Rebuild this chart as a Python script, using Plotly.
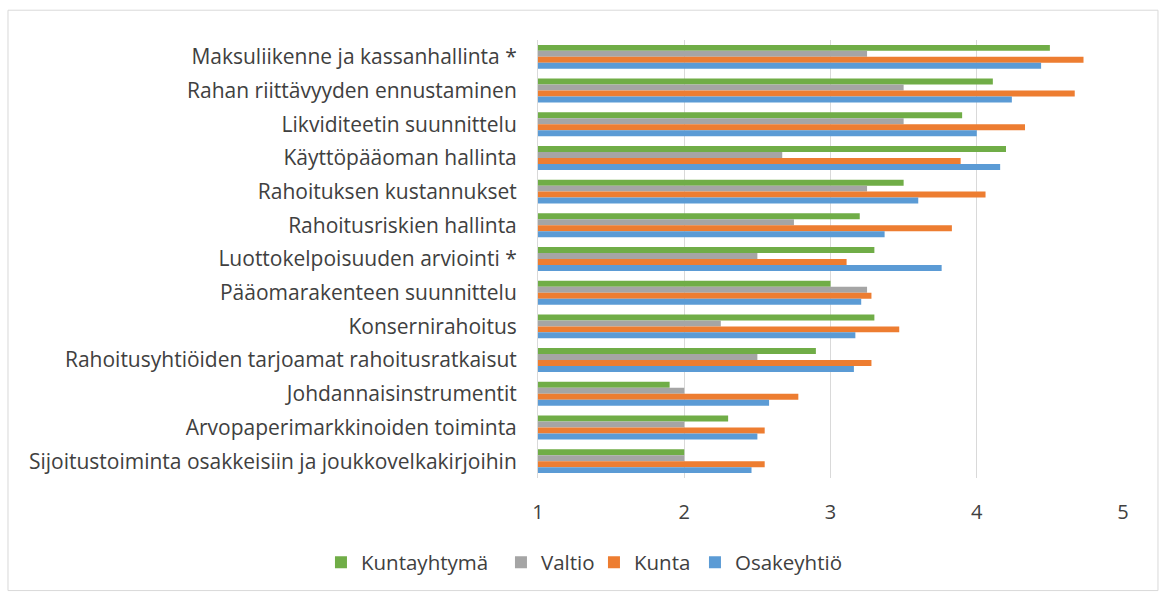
import plotly.graph_objects as go

categories = [
    "Maksuliikenne ja kassanhallinta *",
    "Rahan riittävyyden ennustaminen",
    "Likviditeetin suunnittelu",
    "Käyttöpääoman hallinta",
    "Rahoituksen kustannukset",
    "Rahoitusriskien hallinta",
    "Luottokelpoisuuden arviointi *",
    "Pääomarakenteen suunnittelu",
    "Konsernirahoitus",
    "Rahoitusyhtiöiden tarjoamat rahoitusratkaisut",
    "Johdannaisinstrumentit",
    "Arvopaperimarkkinoiden toiminta",
    "Sijoitustoiminta osakkeisiin ja joukkovelkakirjoihin",
]

kuntayhtyma = [4.50, 4.11, 3.90, 4.20, 3.50, 3.20, 3.30, 3.00, 3.30, 2.90, 1.90, 2.30, 2.00]
valtio      = [3.25, 3.50, 3.50, 2.67, 3.25, 2.75, 2.50, 3.25, 2.25, 2.50, 2.00, 2.00, 2.00]
kunta       = [4.73, 4.67, 4.33, 3.89, 4.06, 3.83, 3.11, 3.28, 3.47, 3.28, 2.78, 2.55, 2.55]
osakeyhtio  = [4.44, 4.24, 4.00, 4.16, 3.60, 3.37, 3.76, 3.21, 3.17, 3.16, 2.58, 2.50, 2.46]

series_names = ["Kuntayhtymä", "Valtio", "Kunta", "Osakeyhtiö"]
series_values = [kuntayhtyma, valtio, kunta, osakeyhtio]
colors = ["#70AD47", "#A5A5A5", "#ED7D31", "#5B9BD5"]
legend_widths = [135, 48, 56, 120]

x_ticks = [1, 2, 3, 4, 5]

FONT = "'Open Sans', Lato, sans-serif"
TXT = "#404040"

fig = go.Figure()
for name, vals, col, lw in zip(series_names, series_values, colors, legend_widths):
    fig.add_trace(go.Bar(
        y=categories, x=[v - 1 for v in vals], base=1, name=name, orientation="h",
        marker=dict(color=col, line=dict(width=0)), legendwidth=lw,
        hovertemplate="%{y}: %{customdata}<extra>" + name + "</extra>",
        customdata=vals,
    ))

fig.update_layout(
    width=1159, height=594,
    barmode="group", bargap=0.29, bargroupgap=0,
    plot_bgcolor="white", paper_bgcolor="white",
    margin=dict(l=538, r=36, t=40, b=114),
    font=dict(family=FONT, size=20, color=TXT),
    legend=dict(orientation="h", x=-0.371, xanchor="left", y=-0.193, yanchor="middle",
                font=dict(size=20.5, color=TXT), itemwidth=30, traceorder="normal"),
    xaxis=dict(range=[1, 5], tickvals=x_ticks, showgrid=True, gridcolor="#D9D9D9",
               gridwidth=1, zeroline=False, showline=False, ticks="",
               tickfont=dict(size=20, color=TXT), ticklabelstandoff=20),
    yaxis=dict(autorange="reversed", showline=True, linecolor="#D9D9D9", linewidth=1,
               ticks="", showgrid=False, ticklabelstandoff=16,
               tickfont=dict(size=21, color=TXT)),
    shapes=[dict(type="rect", xref="paper", yref="paper", x0=-0.906, x1=1.0598,
                 y0=-0.257, y1=1.068, line=dict(color="#D9D9D9", width=1))],
)

fig.write_html("out.html", config={"displayModeBar": False},
               post_script="document.body.style.margin='0';")
